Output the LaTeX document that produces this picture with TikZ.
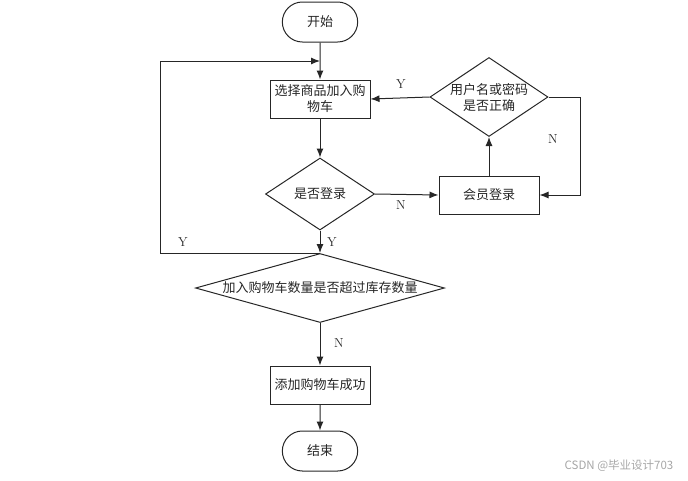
\documentclass[tikz,border=0pt]{standalone}
\usepackage{fontspec}
\newfontfamily\cjk{Noto Sans CJK SC}
\usetikzlibrary{shapes.geometric,shapes.misc,arrows.meta}

\begin{document}
\begin{tikzpicture}[x=1pt,y=-1pt,line width=1pt,color=black!85,
        >={Latex[length=9pt,width=7pt]},
        term/.style={draw,rounded rectangle,minimum width=82pt,minimum height=40pt,font=\cjk\fontsize{13}{16}\selectfont},
        proc/.style={draw,rectangle,minimum width=100pt,minimum height=38pt,inner sep=1pt,align=center,font=\cjk\fontsize{13}{16}\selectfont},
        dec/.style={draw,diamond,inner sep=0pt},
        dectext/.style={align=center,font=\cjk\fontsize{13}{16}\selectfont},
        yn/.style={font=\fontsize{13}{13}\selectfont}]
        \useasboundingbox (0,0) rectangle (688,480);
        % main column
        \node[term] (start) at (320,22) {开始};
        \node[proc] (sel) at (320,99) {选择商品加入购\\物车};
        \node[dec,minimum width=109pt,minimum height=72pt,label={[dectext]center:是否登录}] (log) at (320,194) {};
        \node[dec,minimum width=249pt,minimum height=69pt,label={[dectext]center:加入购物车数量是否超过库存数量}] (chk) at (320,288) {};
        \node[proc] (ok) at (320,385) {添加购物车成功};
        \node[term] (fin) at (320,451) {结束};
        % login branch
        \node[proc] (login) at (489,195) {会员登录};
        \node[dec,minimum width=118pt,minimum height=79pt,label={[dectext]center:{用户名或密码\\是否正确}}] (pwd) at (489,97) {};
        \coordinate (loopL) at (160,253);
        \coordinate (loopT) at (320,61);
        \coordinate (rgt) at (580,97);
        \draw[->] (start) -- (sel);
        \draw[->] (sel) -- (log);
        \draw[->] (log) -- (chk);
        \draw[->] (chk.north) -- (loopL) |- (loopT);
        \draw[->] (log.east) -- (login.west);
        \draw[->] (login) -- (pwd);
        \draw[->] (pwd.west) -- (sel.east);
        \draw[->] (pwd.east) -- (rgt) |- (login.east);
        \draw[->] (chk) -- (ok);
        \draw[->] (ok) -- (fin);
        % labels
        \node[yn] (y1) at (183,242) {Y};
        \node[yn] (y2) at (332,242) {Y};
        \node[yn] (n1) at (401,205) {N};
        \node[yn] (y3) at (401,84) {Y};
        \node[yn] (n2) at (553,139) {N};
        \node[yn] (n3) at (339,343) {N};
        \node[text=black!35,font=\cjk\fontsize{11.5}{12}\selectfont] (wm) at (619,466) {CSDN @毕业设计703};
\end{tikzpicture}
\end{document}
